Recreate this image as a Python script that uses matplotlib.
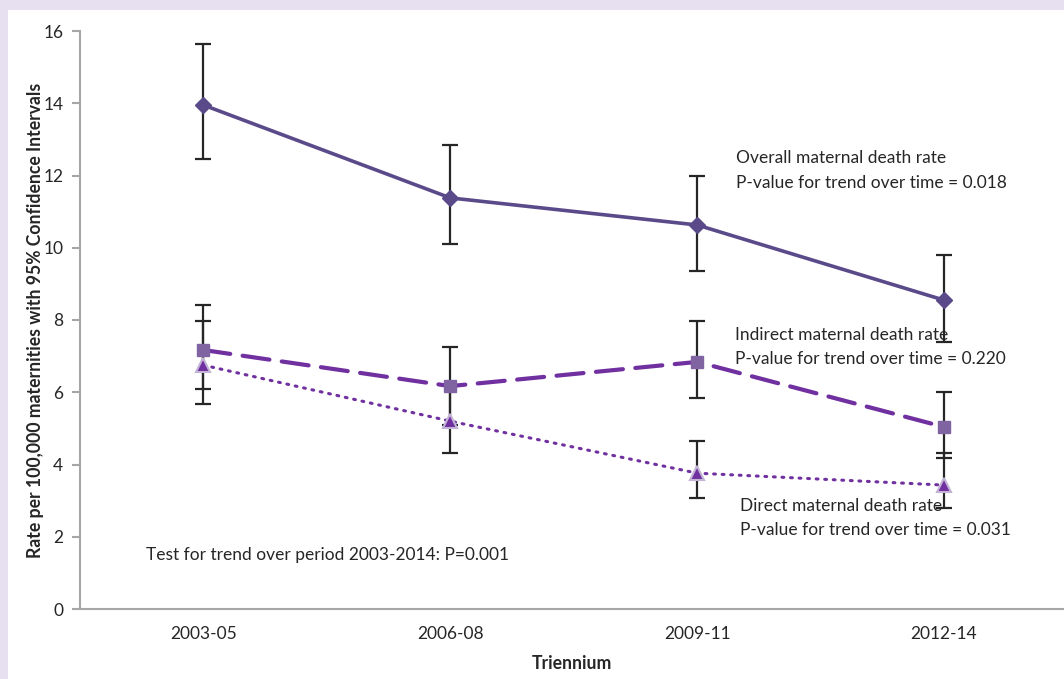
import matplotlib
matplotlib.use("Agg")
import matplotlib.pyplot as plt
from matplotlib.patches import Rectangle
import numpy as np

plt.rcParams['font.family'] = ['Lato', 'DejaVu Sans']

trienniums = ["2003-05", "2006-08", "2009-11", "2012-14"]

overall = [13.95, 11.38, 10.63, 8.55]
overall_lo = [12.46, 10.10, 9.36, 7.39]
overall_hi = [15.64, 12.84, 11.99, 9.80]

indirect = [7.17, 6.17, 6.84, 5.04]
indirect_lo = [6.09, 5.10, 5.84, 4.18]
indirect_hi = [8.42, 7.25, 7.97, 6.01]

direct = [6.75, 5.20, 3.76, 3.43]
direct_lo = [5.67, 4.32, 3.07, 2.80]
direct_hi = [7.97, 6.20, 4.65, 4.32]

fig = plt.figure(figsize=(10.64, 6.79), dpi=100)
fig.patch.set_facecolor("#E6E0F0")
fig.patches.append(Rectangle((8 / 1064, 0), 1, 1 - 10 / 679, transform=fig.transFigure,
                             facecolor="white", edgecolor="none", zorder=-5))

ax = fig.add_axes([80 / 1064, 1 - 609 / 679, 1 - 80 / 1064, (609 - 31) / 679])
ax.set_facecolor("none")
ax.set_zorder(1)
x = np.arange(len(trienniums))


def err(v, lo, hi):
    v = np.asarray(v); lo = np.asarray(lo); hi = np.asarray(hi)
    return np.vstack([v - lo, hi - v])


ebkw = dict(ecolor="#262626", elinewidth=1.6, capsize=6, capthick=1.6, zorder=2)

ax.errorbar(x, overall, yerr=err(overall, overall_lo, overall_hi), fmt="none", **ebkw)
ax.errorbar(x, indirect, yerr=err(indirect, indirect_lo, indirect_hi), fmt="none", **ebkw)
ax.errorbar(x, direct, yerr=err(direct, direct_lo, direct_hi), fmt="none", **ebkw)

ax.plot(x, overall, color="#5B4A8A", lw=2.6, marker="D", ms=8, mfc="#5B4A8A",
        mec="#5B4A8A", zorder=3)
ax.plot(x, indirect, color="#7030A0", lw=3.0, dashes=(6.5, 3.0), dash_capstyle="round",
        marker="s", ms=9, mfc="#8064A2", mec="#8064A2", zorder=3)
ax.plot(x, direct, color="#7030A0", lw=2.2, dashes=(0.6, 2.2), dash_capstyle="round",
        marker="^", ms=10, mfc="#7030A0", mec="#C3B4D6", mew=1.5, zorder=3)

ax.set_ylim(0, 16)
ax.set_yticks(range(0, 17, 2))
ax.set_xlim(-0.5, 3.486)
ax.set_xticks(x)
ax.set_xticklabels(trienniums)

for s in ("top", "right"):
    ax.spines[s].set_visible(False)
for s in ("left", "bottom"):
    ax.spines[s].set_color("#A6A6A6")
    ax.spines[s].set_linewidth(1.5)
ax.tick_params(axis="y", length=6, width=1.5, color="#A6A6A6", labelsize=12.5,
               labelcolor="#262626", pad=6)
ax.tick_params(axis="x", length=0, labelsize=12.5, labelcolor="#262626", pad=12)

ax.set_ylabel("Rate per 100,000 maternities with 95% Confidence Intervals",
              fontsize=12.7, fontweight="bold", color="#262626")
ax.set_xlabel("Triennium", fontsize=12.7, fontweight="bold", color="#262626")
ax.yaxis.set_label_coords(-0.037, 0.5)
ax.xaxis.set_label_coords(0.5, -0.08)

tkw = dict(fontsize=12.5, color="#262626", transform=fig.transFigure, va="center", ha="left")
fig.text(736 / 1064, 1 - 158 / 679, "Overall maternal death rate", **tkw)
fig.text(736 / 1064, 1 - 183 / 679, "P-value for trend over time = 0.018", **tkw)
fig.text(735 / 1064, 1 - 335 / 679, "Indirect maternal death rate", **tkw)
fig.text(735 / 1064, 1 - 359 / 679, "P-value for trend over time = 0.220", **tkw)
fig.text(740 / 1064, 1 - 506 / 679, "Direct maternal death rate", **tkw)
fig.text(740 / 1064, 1 - 530 / 679, "P-value for trend over time = 0.031", **tkw)
fig.text(146 / 1064, 1 - 555 / 679, "Test for trend over period 2003-2014: P=0.001", **tkw)

fig.savefig("out.png", dpi=100)
